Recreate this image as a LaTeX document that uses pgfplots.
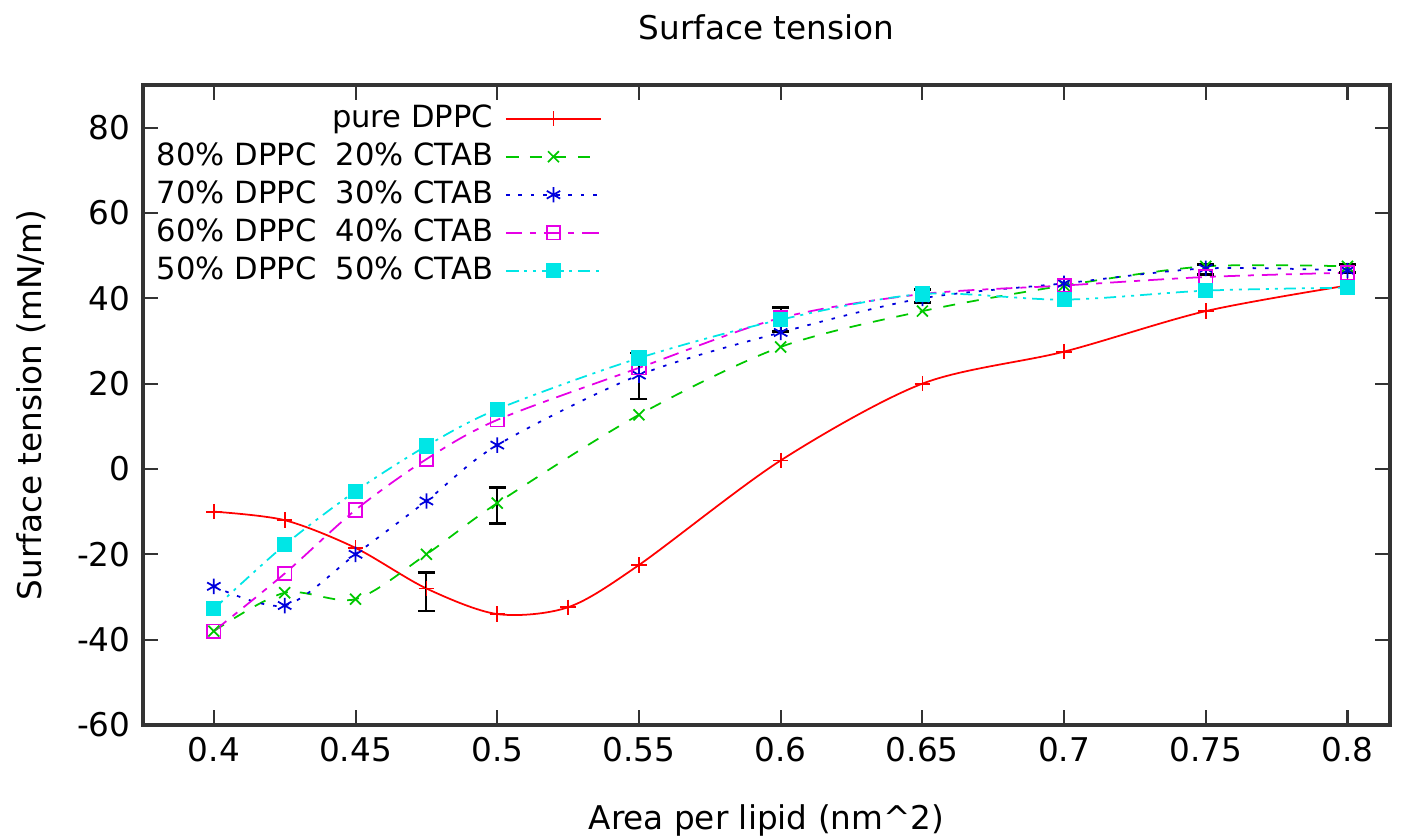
\documentclass[border=0pt]{standalone}
\usepackage{pgfplots}
\pgfplotsset{compat=1.18}
\usepackage{fontspec}
\setmainfont{DejaVu Sans}
\definecolor{gpred}{RGB}{255,0,0}
\definecolor{gpgreen}{RGB}{0,200,0}
\definecolor{gpblue}{RGB}{0,0,220}
\definecolor{gpmag}{RGB}{230,0,230}
\definecolor{gpcyan}{RGB}{0,230,230}
\begin{document}
\begin{tikzpicture}
\begin{axis}[
  scale only axis,
  width=12.47cm, height=6.4cm,
  xmin=0.375, xmax=0.815,
  ymin=-60, ymax=90,
  xtick={0.4,0.45,...,0.81},
  ytick={-60,-40,...,80},
  xticklabels={0.4,0.45,0.5,0.55,0.6,0.65,0.7,0.75,0.8},
  tick align=inside,
  major tick length=1.5mm,
  axis line style={line width=0.9pt, black!80},
  every tick/.style={black!80, line width=0.6pt},
  tick label style={font=\fontsize{9.3}{11}\selectfont},
  /pgf/number format/assume math mode=true,
  title={Surface tension},
  title style={font=\fontsize{9.3}{11}\selectfont, yshift=1.2mm},
  xlabel={Area per lipid (nm\textasciicircum 2)},
  ylabel={Surface tension (mN/m)},
  label style={font=\fontsize{9.3}{11}\selectfont},
  xlabel style={yshift=-1.8mm},
  ylabel style={yshift=0.7mm},
  legend plot pos=right,
  legend cell align=right,
  legend style={draw=none, fill=none, at={(0.377,0.982)}, anchor=north east,
    font=\fontsize{8.7}{10}\selectfont, row sep=0.9mm,
    nodes={inner ysep=0pt, text height=2.3mm, text depth=0.6mm},
    /tikz/every odd column/.append style={column sep=0.5mm}},
  legend image code/.code={\draw[mark repeat=2,mark phase=2] plot coordinates {(0cm,0cm)(0.475cm,0cm)(0.95cm,0cm)};},
  every axis plot/.append style={line width=0.5pt, smooth, tension=0.5},
  mark options={solid, line width=0.5pt},
]
\addplot[gpred, mark=+, mark size=2.2pt] coordinates {
 (0.4,-10)(0.425,-12)(0.45,-18.5)(0.475,-28)(0.5,-34)(0.525,-32.4)(0.55,-22.5)
 (0.6,2)(0.65,20)(0.7,27.5)(0.75,37)(0.8,43)};
\addplot[gpgreen, dash pattern=on 1.2mm off 1.2mm, mark=x, mark size=2.2pt] coordinates {
 (0.4,-38)(0.425,-29)(0.45,-30.5)(0.475,-20)(0.5,-8)(0.55,12.7)
 (0.6,28.6)(0.65,37)(0.7,43)(0.75,47.5)(0.8,47.5)};
\addplot[gpblue, dash pattern=on 0.35mm off 0.9mm, mark=asterisk, mark size=2.2pt] coordinates {
 (0.4,-27.5)(0.425,-32)(0.45,-20)(0.475,-7.5)(0.5,5.6)(0.55,22)
 (0.6,32)(0.65,40)(0.7,43.5)(0.75,47)(0.8,46.5)};
\addplot[gpmag, dash pattern=on 1.6mm off 0.8mm on 0.6mm off 0.8mm, mark=square, mark size=1.9pt] coordinates {
 (0.4,-38)(0.425,-24.5)(0.45,-9.6)(0.475,2.3)(0.5,11.5)(0.55,23.7)
 (0.6,35.4)(0.65,41)(0.7,43)(0.75,45)(0.8,46)};
\addplot[gpcyan, dash pattern=on 1.2mm off 0.6mm on 0.3mm off 0.6mm on 0.3mm off 0.6mm, mark=square*, mark size=1.9pt] coordinates {
 (0.4,-32.8)(0.425,-17.8)(0.45,-5.2)(0.475,5.4)(0.5,14)(0.55,26)
 (0.6,35)(0.65,41)(0.7,39.7)(0.75,41.8)(0.8,42.5)};
\legend{pure DPPC, 80\% DPPC\ \ 20\% CTAB, 70\% DPPC\ \ 30\% CTAB, 60\% DPPC\ \ 40\% CTAB, 50\% DPPC\ \ 50\% CTAB}
\addplot[forget plot, draw=none, no marks, black,
  error bars/.cd, y dir=both, y explicit,
  error bar style={line width=0.6pt, black},
  error mark options={rotate=90, mark size=0.85mm, line width=0.8pt, black}]
 coordinates {
 (0.475,-28.8) +- (0,4.5)
 (0.5,-8.5) +- (0,4.2)
 (0.55,21.8) +- (0,5.4)
 (0.6,35) +- (0,2.8)
 (0.65,40.5) +- (0,1.5)
 (0.75,46.7) +- (0,1.2)
 (0.8,47) +- (0,1)};
\end{axis}
\pgfresetboundingbox
\path[use as bounding box] (current axis.south west) ++(-1.43cm,-1.13cm) rectangle ([xshift=0.14cm, yshift=0.85cm]current axis.north east);
\end{tikzpicture}
\end{document}
